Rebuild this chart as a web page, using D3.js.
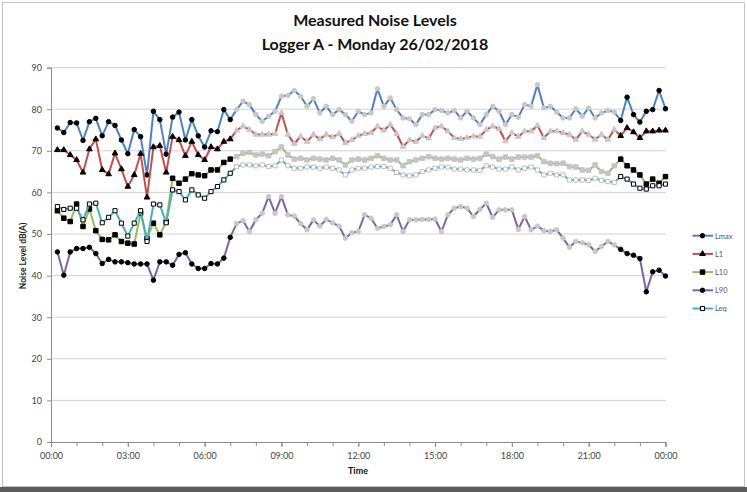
<!DOCTYPE html>
<html><head><meta charset="utf-8">
<script src="https://cdn.jsdelivr.net/npm/d3@7"></script>
<style>body{margin:0;background:#fff}svg{display:block}text{font-family:Lato,'Open Sans',sans-serif}</style>
</head><body><svg id="c" width="747" height="492"></svg>
<script>
const times = ["00:15","00:30","00:45","01:00","01:15","01:30","01:45","02:00","02:15","02:30","02:45","03:00",
"03:15","03:30","03:45","04:00","04:15","04:30","04:45","05:00","05:15","05:30","05:45","06:00",
"06:15","06:30","06:45","07:00","07:15","07:30","07:45","08:00","08:15","08:30","08:45","09:00",
"09:15","09:30","09:45","10:00","10:15","10:30","10:45","11:00","11:15","11:30","11:45","12:00",
"12:15","12:30","12:45","13:00","13:15","13:30","13:45","14:00","14:15","14:30","14:45","15:00",
"15:15","15:30","15:45","16:00","16:15","16:30","16:45","17:00","17:15","17:30","17:45","18:00",
"18:15","18:30","18:45","19:00","19:15","19:30","19:45","20:00","20:15","20:30","20:45","21:00",
"21:15","21:30","21:45","22:00","22:15","22:30","22:45","23:00","23:15","23:30","23:45","24:00"];

const Lmax = [75.5,74.4,76.8,76.7,72.5,77.0,77.8,73.6,77.0,76.1,72.6,69.3,75.1,73.4,64.2,79.5,77.5,69.2,78.1,79.3,72.6,77.5,73.6,70.9,
74.8,74.6,79.9,77.5,79.9,81.9,81.1,78.7,77.1,78.3,79.5,83.1,83.3,84.5,83.1,80.7,82.5,79.1,80.7,78.7,79.9,78.7,77.1,79.5,
78.7,79.1,84.9,80.7,82.7,79.9,77.9,77.7,76.3,78.7,78.7,79.9,79.7,79.1,79.7,77.9,79.5,77.9,76.3,78.7,80.7,79.5,76.3,78.7,
78.1,81.1,80.7,85.9,80.3,80.7,79.3,77.9,77.9,80.1,78.3,80.3,77.9,79.1,79.7,79.3,77.3,82.9,78.7,76.9,79.5,79.9,84.5,80.1];

const L1 = [70.2,70.2,69.0,67.8,64.8,70.4,72.8,65.4,64.4,69.4,65.6,61.4,64.2,69.3,58.8,70.9,71.2,64.8,73.4,72.6,68.8,72.2,69.0,67.8,
70.9,70.4,72.2,72.8,74.9,75.9,75.1,73.9,73.9,73.9,74.1,79.1,73.9,71.7,73.5,72.2,73.9,72.8,73.9,73.3,74.1,71.9,72.6,73.6,
74.1,74.3,75.9,74.9,76.3,74.1,71.0,72.6,72.2,73.6,73.0,75.5,75.9,74.7,73.1,72.9,73.1,73.5,73.4,75.1,75.9,75.3,72.3,74.3,
73.4,74.7,74.7,76.1,73.1,74.7,74.7,74.3,73.9,72.7,74.7,73.9,72.7,73.9,72.7,75.1,73.6,75.5,74.5,73.1,74.7,74.7,74.9,74.9];

const L10 = [55.6,53.8,53.0,57.2,51.8,56.0,50.8,48.7,48.6,49.8,48.2,47.8,47.6,55.0,49.0,52.6,49.8,53.0,63.4,62.2,63.2,64.5,64.2,64.0,
65.4,65.4,67.2,68.0,68.6,69.4,69.6,69.0,69.2,68.8,69.8,70.9,69.0,68.0,68.2,67.8,68.2,68.0,67.8,68.2,67.8,66.6,67.8,68.0,
67.8,68.2,68.8,68.2,67.8,67.8,66.4,67.4,67.8,68.2,68.6,68.2,68.0,68.2,68.0,67.8,68.2,68.0,68.2,69.2,68.6,68.0,68.5,68.0,
68.5,68.5,68.5,68.8,67.4,67.0,66.9,67.0,66.2,66.1,65.4,65.3,66.6,65.0,64.6,66.4,68.0,66.4,65.4,64.2,62.0,63.2,62.2,63.8];

const L90 = [45.7,40.1,45.7,46.5,46.5,46.8,45.3,42.9,43.9,43.3,43.3,43.1,42.8,42.8,42.8,38.9,43.3,43.3,42.5,45.1,45.5,42.8,41.7,41.7,
42.9,42.8,44.2,49.2,52.5,53.2,50.6,53.4,55.0,59.0,55.0,59.0,54.6,54.3,52.5,51.0,53.4,51.9,53.5,52.7,51.9,49.0,50.3,50.6,
54.6,53.8,51.4,51.8,52.2,54.6,50.6,53.4,53.4,53.5,53.5,53.6,50.6,54.6,56.2,56.6,56.2,54.2,55.9,57.4,54.0,55.8,55.8,55.8,
51.1,54.2,51.0,51.9,50.8,50.6,51.0,49.0,46.8,48.2,47.9,47.4,45.8,47.0,48.2,47.4,46.3,45.3,44.9,44.1,36.1,40.9,41.3,39.9];

const Leq = [56.6,55.9,56.2,56.2,53.4,57.2,57.4,52.7,54.0,55.6,52.6,49.5,52.6,55.6,48.2,57.2,57.0,52.7,60.6,60.2,58.2,60.6,59.4,58.6,
60.2,61.4,63.0,64.6,66.2,66.6,66.6,66.4,66.6,66.2,66.4,67.8,66.4,65.8,65.8,66.1,66.1,65.8,66.1,65.8,65.4,64.2,65.4,65.8,
65.8,66.1,66.2,66.2,65.8,64.8,64.2,64.0,64.2,65.0,65.4,65.8,66.1,66.1,65.6,65.6,65.4,65.4,65.3,66.4,66.1,65.6,65.6,66.1,
65.4,65.8,66.1,65.4,64.2,64.6,64.2,64.2,63.0,63.0,63.0,62.9,63.4,62.9,62.6,62.4,63.8,63.2,62.0,61.0,60.8,61.6,61.6,62.0];

const seriesNames = ["Lmax","L1","L10","L90","Leq"];
const seriesValues = [Lmax, L1, L10, L90, Leq];
const yTicks = [0,10,20,30,40,50,60,70,80,90];
const xTickLabels = ["00:00","03:00","06:00","09:00","12:00","15:00","18:00","21:00","00:00"];
const dayStart = "07:15", dayEnd = "22:00";

const styles = {
  Lmax:{color:"#4F81BD", shape:d3.symbolCircle, size:16, fill:"#000", dayFill:"#c8c8c8", stroke:"#000", dayStroke:"#c8c8c8"},
  L1:{color:"#C0504D", shape:d3.symbolTriangle, size:14, fill:"#000", dayFill:"#c8c8c8", stroke:"#000", dayStroke:"#c8c8c8"},
  L10:{color:"#9BBB59", shape:d3.symbolSquare, size:20, fill:"#000", dayFill:"#c4c4c4", stroke:"#000", dayStroke:"#c4c4c4"},
  L90:{color:"#8064A2", shape:d3.symbolCircle, size:16, fill:"#000", dayFill:"#c8c8c8", stroke:"#000", dayStroke:"#c8c8c8"},
  Leq:{color:"#4BACC6", shape:d3.symbolSquare, size:17, fill:"#fff", dayFill:"#fff", stroke:"#000", dayStroke:"#c0c0c0"}
};

const toMin = s => { const [h,m] = s.split(":").map(Number); return h*60+m; };
const svg = d3.select("#c");

// frame
svg.append("rect").attr("x",2.5).attr("y",2.5).attr("width",742).attr("height",484)
  .attr("fill","#fff").attr("stroke","#c4c4c4");
svg.append("rect").attr("x",0).attr("y",487).attr("width",747).attr("height",5).attr("fill","#5c5c5c");

const x = d3.scaleLinear().domain([0,1440]).range([51,665.5]);
const y = d3.scaleLinear().domain([0,90]).range([442,67.6]);

// gridlines
svg.append("g").selectAll("line").data(yTicks.filter(d=>d>0)).join("line")
  .attr("x1",51).attr("x2",666).attr("y1",d=>y(d)).attr("y2",d=>y(d))
  .attr("stroke","#d2d2d2").attr("stroke-width",1);

// axes
const yAxis = svg.append("g").attr("transform","translate(51,0)")
  .call(d3.axisLeft(y).tickValues(yTicks).tickSize(4).tickPadding(5));
const xAxis = svg.append("g").attr("transform","translate(0,442)")
  .call(d3.axisBottom(x).tickValues(xTickLabels.map((d,i)=>i*180)).tickFormat((d,i)=>xTickLabels[i]).tickSize(5).tickPadding(6));
const xMinor = svg.append("g").attr("transform","translate(0,442)")
  .call(d3.axisBottom(x).tickValues(d3.range(0,1441,60)).tickFormat("").tickSize(4));
[yAxis,xAxis,xMinor].forEach(g=>{
  g.select(".domain").attr("stroke","#8c8c8c");
  g.selectAll(".tick line").attr("stroke","#8c8c8c");
  g.selectAll("text").attr("fill","#444").style("font-size","9px").style("font-family","Lato,'Open Sans',sans-serif");
});
xMinor.select(".domain").remove();

// series
const dS = toMin(dayStart), dE = toMin(dayEnd);
seriesNames.forEach((name,si)=>{
  const st = styles[name];
  const pts = seriesValues[si].map((v,i)=>({t:toMin(times[i]), v}));
  const g = svg.append("g");
  g.append("path").datum(pts)
    .attr("d", d3.line().x(d=>x(d.t)).y(d=>y(d.v)))
    .attr("fill","none").attr("stroke",st.color).attr("stroke-width",2).attr("stroke-linejoin","round");
  const sym = d3.symbol().type(st.shape).size(st.size);
  g.selectAll("path.m").data(pts).join("path").attr("class","m")
    .attr("d",sym)
    .attr("transform",d=>`translate(${x(d.t)},${y(d.v)})`)
    .attr("fill",d=> (d.t>=dS && d.t<=dE) ? st.dayFill : st.fill)
    .attr("stroke",d=> (d.t>=dS && d.t<=dE) ? st.dayStroke : st.stroke)
    .attr("stroke-width",1);
});

// titles
svg.append("text").attr("x",375).attr("y",26).attr("text-anchor","middle")
  .style("font-size","16px").style("font-weight","bold").attr("fill","#111").text("Measured Noise Levels");
svg.append("text").attr("x",375).attr("y",50).attr("text-anchor","middle")
  .style("font-size","16px").style("font-weight","bold").attr("fill","#111").text("Logger A - Monday 26/02/2018");
svg.append("text").attr("x",358).attr("y",474).attr("text-anchor","middle")
  .style("font-size","9px").style("font-weight","bold").attr("fill","#111").text("Time");
svg.append("text").attr("transform","translate(25.5,256) rotate(-90)").attr("text-anchor","middle")
  .style("font-size","8.5px").style("font-weight","bold").attr("fill","#222").text("Noise Level dB(A)");

// legend
const lg = svg.append("g");
seriesNames.forEach((name,i)=>{
  const st = styles[name];
  const ly = 235.7 + i*18.2;
  lg.append("line").attr("x1",692.5).attr("x2",713).attr("y1",ly).attr("y2",ly).attr("stroke",st.color).attr("stroke-width",2);
  lg.append("path").attr("d",d3.symbol().type(st.shape).size(st.size)())
    .attr("transform",`translate(702.5,${ly})`).attr("fill",st.fill).attr("stroke",st.stroke);
  lg.append("text").attr("x",715).attr("y",ly+2.8).style("font-size","7.5px").attr("fill","#555").text(name);
});
</script></body></html>
